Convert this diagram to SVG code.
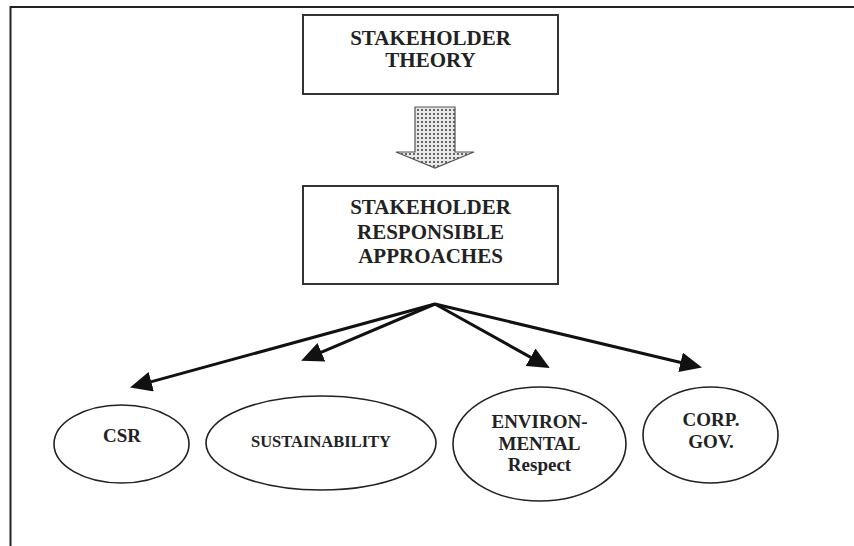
<svg xmlns="http://www.w3.org/2000/svg" width="854" height="546" viewBox="0 0 854 546">
<defs>
<style>
.box{fill:#fff;stroke:#333;stroke-width:2}
.ell{fill:#fff;stroke:#222;stroke-width:1.6}
.t{font-family:"Liberation Serif","Times New Roman",serif;font-weight:bold;fill:#222;text-anchor:middle}
.conn{stroke:#111;stroke-width:3;fill:none;marker-end:url(#ah)}
</style>
<marker id="ah" viewBox="0 0 22 20" refX="10" refY="10" markerWidth="22" markerHeight="20" markerUnits="userSpaceOnUse" orient="auto">
<path d="M0,0 L22,10 L0,20 z" fill="#111"/>
</marker>
<pattern id="dots" width="4" height="4" patternUnits="userSpaceOnUse">
<rect width="4" height="4" fill="#e8e8e8"/>
<rect x="1" y="1" width="2" height="2" fill="#666"/>
</pattern>
</defs>
<rect width="854" height="546" fill="#fff"/>
<g id="frame" fill="none" stroke="#222" stroke-width="2">
<path d="M10.5,546 L10.5,7 L854,7"/>
</g>
<g id="stakeholder-theory">
<rect class="box" x="303" y="15" width="255" height="79"/>
<text class="t" font-size="21" x="430.5" y="45">STAKEHOLDER</text>
<text class="t" font-size="21" x="430.5" y="67">THEORY</text>
</g>
<g id="block-arrow">
<path d="M415,107 L455,107 L455,152 L474,152 L435,168 L396,152 L415,152 z" fill="url(#dots)" stroke="#555" stroke-width="1.2"/>
</g>
<g id="approaches">
<rect class="box" x="303" y="186" width="255" height="98"/>
<text class="t" font-size="21" x="430.5" y="214">STAKEHOLDER</text>
<text class="t" font-size="21" x="430.5" y="238.5">RESPONSIBLE</text>
<text class="t" font-size="21" x="430.5" y="263">APPROACHES</text>
</g>
<g id="connectors">
<line class="conn" x1="435" y1="304" x2="141.6" y2="384.4"/>
<line class="conn" x1="435" y1="304" x2="312.2" y2="356.1"/>
<line class="conn" x1="435" y1="304" x2="539.3" y2="362.1"/>
<line class="conn" x1="435" y1="304" x2="690.3" y2="364.7"/>
</g>
<g id="csr">
<ellipse class="ell" cx="121.5" cy="444" rx="67.5" ry="39"/>
<text class="t" font-size="19" x="122" y="442">CSR</text>
</g>
<g id="sustainability">
<ellipse class="ell" cx="321" cy="443" rx="115" ry="47"/>
<text class="t" font-size="16.5" x="321" y="447">SUSTAINABILITY</text>
</g>
<g id="environmental">
<ellipse class="ell" cx="539.5" cy="444" rx="86.5" ry="57"/>
<text class="t" font-size="19" x="539.5" y="428">ENVIRON-</text>
<text class="t" font-size="19" x="539.5" y="450">MENTAL</text>
<text class="t" font-size="19" x="539.5" y="471">Respect</text>
</g>
<g id="corp-gov">
<ellipse class="ell" cx="710.5" cy="435" rx="67.5" ry="48"/>
<text class="t" font-size="19" x="711" y="426">CORP.</text>
<text class="t" font-size="19" x="711" y="448">GOV.</text>
</g>
</svg>
